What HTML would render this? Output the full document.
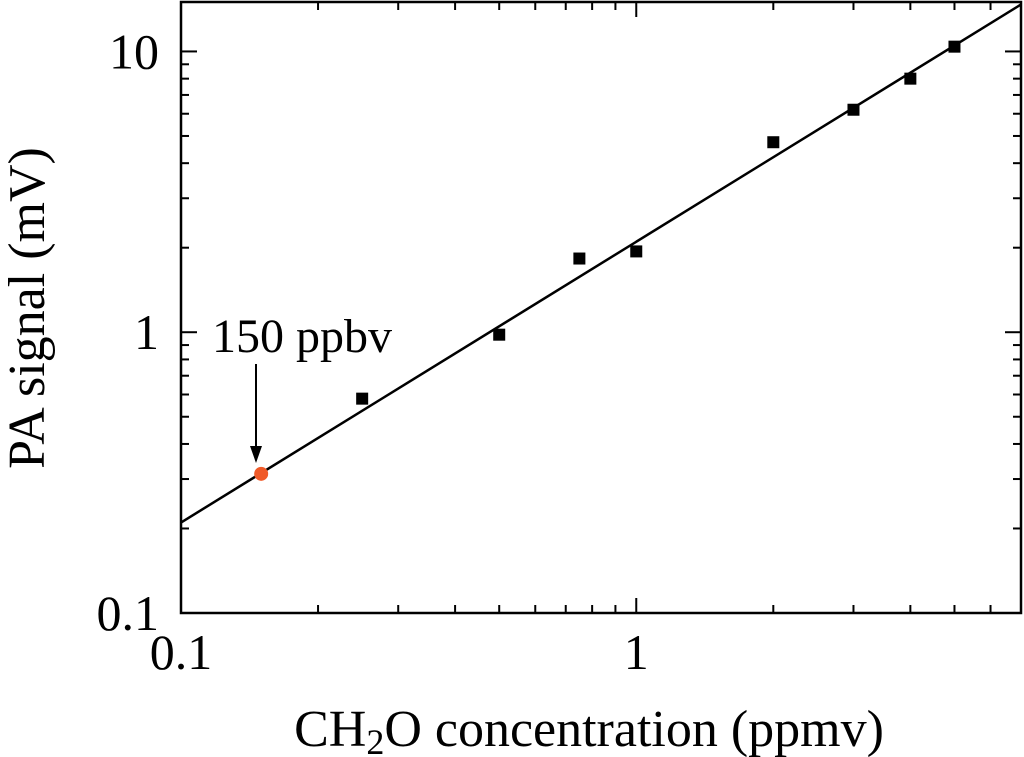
<!DOCTYPE html>
<html><head><meta charset="utf-8"><style>
html,body{margin:0;padding:0;background:#fff;width:1024px;height:757px;overflow:hidden}
text{font-family:"Liberation Serif",serif;fill:#000}
</style></head><body>
<svg id="chart" width="1024" height="757" viewBox="0 0 1024 757" xmlns="http://www.w3.org/2000/svg">
<g id="ticks"></g>
<g id="fit"></g>
<g id="pts"></g>
<rect x="181" y="2" width="840" height="611" fill="none" stroke="#000" stroke-width="2.5"/>
<text x="302" y="352" font-size="48" text-anchor="middle">150 ppbv</text>
<g>
<line x1="256" y1="364" x2="256" y2="448" stroke="#000" stroke-width="2"/>
<polygon points="250,446 262,446 256,463" fill="#000"/>
</g>
<text transform="translate(44,308) rotate(-90)" font-size="52" text-anchor="middle">PA signal (mV)</text>
<text x="589" y="746" font-size="52" text-anchor="middle">CH<tspan font-size="36" dy="8">2</tspan><tspan dy="-8">O concentration (ppmv)</tspan></text>
</svg>
<script>
const xVals=[0.25,0.5,0.75,1,2,3,4,5];
const yVals=[0.58,0.98,1.83,1.94,4.75,6.2,8.0,10.4];
const fitSlope=2.1;
const highlightX=[0.15];
const highlightY=[0.313];
const xTickLabels=["0.1","1"];
const yTickLabels=["0.1","1","10"];
const L=181,R=1021,T=2,B=613;
const xmin=0.1,xmax=7.0,ymin=0.1,ymax=15.0;
const X=v=>L+(Math.log10(v)-Math.log10(xmin))/(Math.log10(xmax)-Math.log10(xmin))*(R-L);
const Y=v=>B-(Math.log10(v)-Math.log10(ymin))/(Math.log10(ymax)-Math.log10(ymin))*(B-T);
const NS="http://www.w3.org/2000/svg";
function mk(tag,attrs,parent){const e=document.createElementNS(NS,tag);for(const k in attrs)e.setAttribute(k,attrs[k]);parent.appendChild(e);return e;}
const tg=document.getElementById('ticks');
for(let d=0.1;d<10;d*=10){for(let m=1;m<10;m++){const v=+(d*m).toPrecision(3);if(v<xmin-1e-9||v>xmax+1e-9)continue;const x=X(v);const len=m===1?15:8;
const t1=mk('line',{x1:x,y1:B,x2:x,y2:B-len,stroke:'#000','stroke-width':2},tg);


const t2=mk('line',{x1:x,y1:T,x2:x,y2:T+len,stroke:'#000','stroke-width':2},tg);

}}
xTickLabels.forEach(s=>{const t=mk('text',{x:X(parseFloat(s)),y:669,'font-size':50,'text-anchor':'middle'},tg);t.textContent=s;

});
for(let d=0.1;d<100;d*=10){for(let m=1;m<10;m++){const v=+(d*m).toPrecision(3);if(v<ymin-1e-9||v>ymax+1e-9)continue;const y=Y(v);const len=m===1?16:8;
const t1=mk('line',{x1:L,y1:y,x2:L+len,y2:y,stroke:'#000','stroke-width':2},tg);


const t2=mk('line',{x1:R,y1:y,x2:R-len,y2:y,stroke:'#000','stroke-width':2},tg);

}}
yTickLabels.forEach(s=>{const t=mk('text',{x:159,y:Y(parseFloat(s))+17,'font-size':50,'text-anchor':'end'},tg);t.textContent=s;

});
const fg=document.getElementById('fit');
const fl=mk('line',{x1:X(xmin),y1:Y(fitSlope*xmin),x2:X(xmax),y2:Y(fitSlope*xmax),stroke:'#000','stroke-width':2.5},fg);


const pg=document.getElementById('pts');
xVals.forEach((v,i)=>{const r=mk('rect',{x:X(v)-6,y:Y(yVals[i])-6,width:12,height:12,fill:'#000'},pg);

});
highlightX.forEach((v,i)=>{const c=mk('circle',{cx:X(v),cy:Y(highlightY[i]),r:7,fill:'#f05a28'},pg);

});
</script>
</body></html>
